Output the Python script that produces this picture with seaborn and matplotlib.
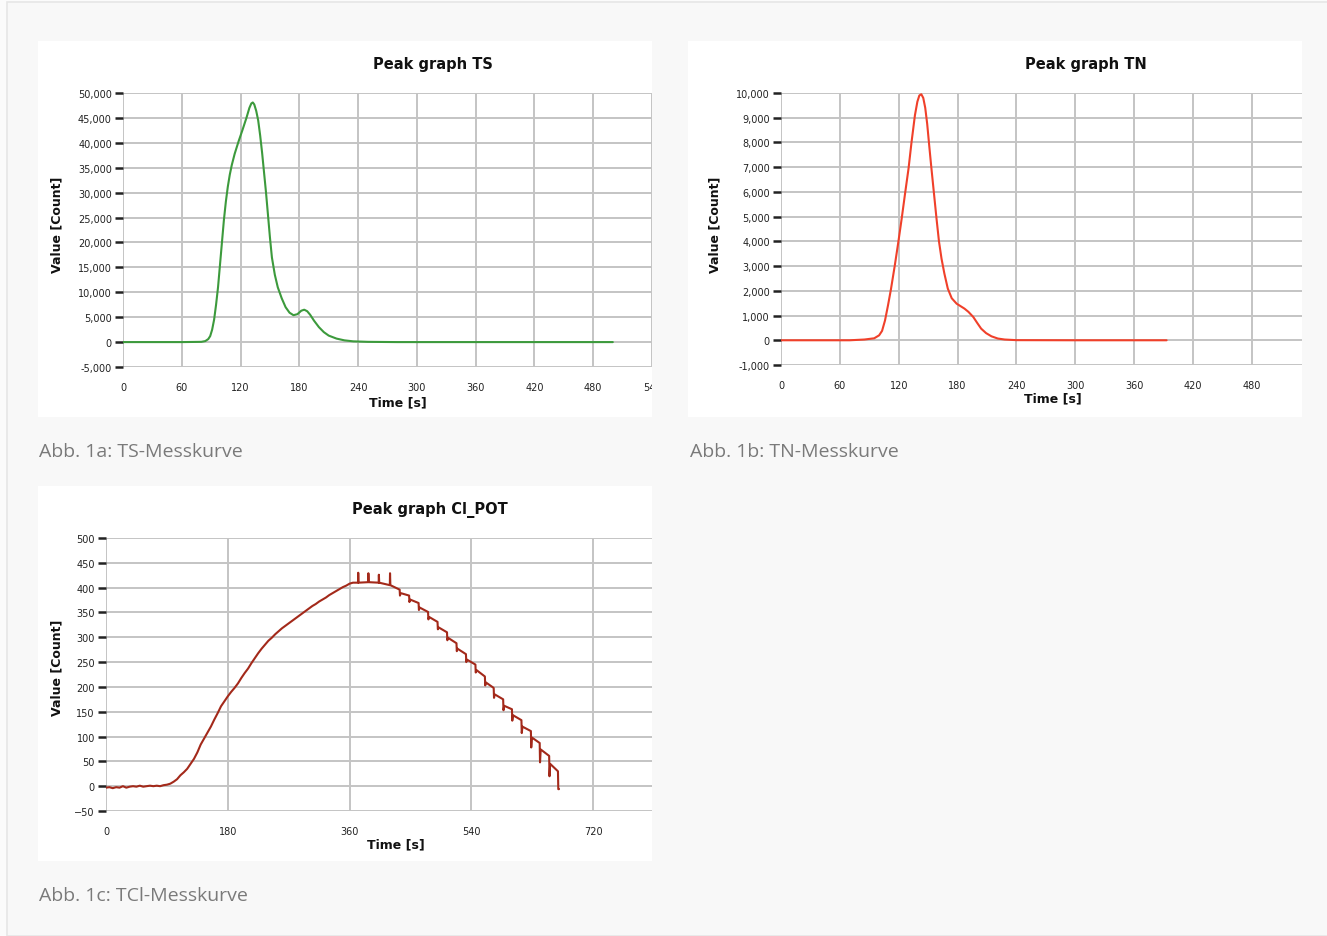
import matplotlib
matplotlib.use("Agg")
import matplotlib.pyplot as plt
import seaborn as sns
from matplotlib.patches import Rectangle
from matplotlib.ticker import FuncFormatter
from matplotlib.transforms import Bbox, TransformedBbox

# --- data ---
ts_time = [0, 60, 80, 84, 87, 89, 91, 93, 95, 97, 99, 101, 103, 105, 107, 109, 111, 114,
           118, 122, 126, 129, 131, 132.5, 134, 136, 138, 140, 142, 144, 146, 148, 150,
           152, 155, 158, 162, 166, 170, 174, 178, 182, 185, 188, 191, 195, 200, 205,
           210, 218, 226, 235, 250, 280, 500]
ts_value = [0, 0, 50, 200, 600, 1200, 2500, 4500, 7500, 11000, 15500, 20000, 24500,
            28200, 31200, 33600, 35500, 37800, 40300, 42600, 45000, 47000, 47900, 48100,
            47700, 46400, 44500, 41500, 38000, 34000, 30000, 25500, 21000, 17000, 13500,
            11000, 8800, 7000, 5900, 5400, 5600, 6300, 6500, 6200, 5500, 4300, 3000,
            2000, 1300, 700, 350, 150, 50, 0, 0]

tn_time = [0, 70, 85, 95, 100, 103, 106, 109, 112, 116, 119.5, 123, 126.5, 130, 133,
           136.5, 139, 141, 143, 145, 147, 149, 151, 153, 156, 158.5, 161, 163.6, 166.5,
           170, 174, 179, 183, 187, 191, 196, 200, 204, 209, 214.5, 221, 228, 240, 300, 393]
tn_value = [0, 0, 30, 80, 200, 380, 800, 1400, 2050, 3030, 3950, 4920, 5950, 6950, 8000,
            9100, 9650, 9900, 9950, 9800, 9400, 8750, 7900, 7075, 5900, 4920, 4000, 3300,
            2700, 2090, 1700, 1480, 1380, 1280, 1150, 940, 700, 470, 290, 160, 70, 30, 5,
            0, 0]

# Cl_POT: smooth rise, then plateau with upward spikes, then stepped descent
ci_rise_time = [0, 5, 10, 15, 20, 25, 30, 35, 40, 45, 50, 55, 60, 65, 70, 75, 80, 85, 90,
                95, 100, 105, 110, 115, 120, 125, 130, 135, 140, 145, 150, 155, 160, 165,
                170, 175, 180, 185, 190, 195, 200, 205, 210, 215, 220, 225, 230, 235, 240,
                245, 250, 255, 260, 265, 270, 275, 280, 285, 290, 295, 300, 305, 310, 315,
                320, 325, 330, 335, 340, 345, 350, 355, 360, 365]
ci_rise_value = [-3, -2, -4, -2, -3, 0, -3, -1, 0, -1, 1, -1, 0, 1, 0, 1, 0, 2, 3, 5, 9,
                 14, 22, 28, 35, 45, 55, 68, 84, 96, 108, 120, 134, 147, 161, 171, 181,
                 190, 198, 207, 218, 228, 237, 248, 258, 268, 277, 285, 293, 299, 306,
                 312, 318, 323, 328, 333, 338, 343, 348, 353, 358, 363, 367, 372, 376,
                 380, 385, 389, 393, 397, 401, 404, 408, 410]
# upward spikes on the plateau: time, base, top
ci_up_time = [372.5, 387.5, 403, 419.5]
ci_up_base = [410, 411, 410, 405]
ci_up_top = [430, 429, 426, 429]
# descending steps: time, value before drop, spike bottom, value after
ci_step_time = [434, 448, 462, 476, 490, 504, 518, 532, 546, 560, 573, 587, 600, 614,
                628, 641, 655, 668]
ci_step_pre = [396, 384, 369, 351, 331, 310, 288, 266, 245, 221, 198, 175, 155, 133, 111,
               87, 61, 30]
ci_step_low = [384, 371, 355, 336, 316, 294, 272, 250, 229, 203, 178, 153, 132, 107, 78,
               48, 20, -6]
ci_step_post = [389, 376, 360, 341, 320, 299, 277, 255, 234, 209, 185, 162, 143, 120,
                98, 74, 45, -6]

ci_time = list(ci_rise_time)
ci_value = list(ci_rise_value)
for t, b, top in zip(ci_up_time, ci_up_base, ci_up_top):
    ci_time += [t, t + 0.3, t + 0.8]
    ci_value += [b, top, b]
for t, a, lo, c in zip(ci_step_time, ci_step_pre, ci_step_low, ci_step_post):
    ci_time += [t, t + 0.5, t + 1.5]
    ci_value += [a, lo, c]

W, H = 1327, 937
sns.set_style("white")
plt.rcParams["font.family"] = ["DejaVu Sans"]

fig = plt.figure(figsize=(W / 100, H / 100), dpi=100)
fig.patch.set_facecolor("#fbfbfb")
fig.add_artist(Rectangle((7 / W, 0), 1, 1 - 3 / H, transform=fig.transFigure,
                         facecolor="#f8f8f8", edgecolor="#e6e6e6", lw=1.2, zorder=-3))


def px_box(l, t, r, b):
    return [l / W, 1 - b / H, (r - l) / W, (b - t) / H]


def panel(l, t, r, b):
    fig.add_artist(Rectangle((l / W, 1 - b / H), (r - l) / W, (b - t) / H,
                             transform=fig.transFigure, facecolor="white",
                             edgecolor="none", zorder=-2))


comma = FuncFormatter(lambda v, p: f"{int(v):,}")


def style_axes(ax, xlim, xticks, ylim, yticks, fmt, title, title_pos, xl_pos, yl_pos):
    ax.set_zorder(1)
    ax.set_xlim(*xlim)
    ax.set_ylim(*ylim)
    ax.set_xticks(xticks)
    ax.set_yticks(yticks)
    if fmt is not None:
        ax.yaxis.set_major_formatter(fmt)
    ax.grid(True, color="#c4c4c4", linewidth=1.4)
    ax.set_axisbelow(True)
    for s in ax.spines.values():
        s.set_visible(False)
    ax.tick_params(axis="y", left=True, length=6, width=1.8, color="#222222", pad=2,
                   labelsize=7, labelcolor="#222222")
    ax.tick_params(axis="x", bottom=False, length=0, pad=11, labelsize=7,
                   labelcolor="#222222")
    ax.set_title(title, fontsize=10.5, fontweight="bold", x=title_pos[0], y=title_pos[1],
                 va="center", color="#111111", pad=0)
    ax.set_xlabel("Time [s]", fontsize=9, fontweight="bold", color="#111111")
    ax.set_ylabel("Value [Count]", fontsize=9, fontweight="bold", color="#111111")
    ax.xaxis.set_label_coords(*xl_pos)
    ax.xaxis.label.set_va("center")
    ax.yaxis.set_label_coords(*yl_pos)
    ax.yaxis.label.set_va("center")


# Abb. 1a
panel(38, 42, 652, 418)
ax1 = fig.add_axes(px_box(123, 94, 652, 368))
sns.lineplot(x=ts_time, y=ts_value, ax=ax1, color="#3c9a3c", linewidth=1.5,
             estimator=None, sort=False)
style_axes(ax1, (0, 532), list(range(0, 541, 60)), (-5000, 50000),
           list(range(-5000, 50001, 5000)), comma, "Peak graph TS",
           (0.586, 1.106), (0.52, -0.128), (-0.125, 0.522))
clip1 = TransformedBbox(Bbox([[38 / W, 0], [652 / W, 1]]), fig.transFigure)
for lab in ax1.get_xticklabels():
    lab.set_clip_box(clip1)
    lab.set_clip_on(True)

# Abb. 1b
panel(688, 42, 1302, 418)
ax2 = fig.add_axes(px_box(781, 94, 1302, 366))
sns.lineplot(x=tn_time, y=tn_value, ax=ax2, color="#f0402a", linewidth=1.5,
             estimator=None, sort=False)
style_axes(ax2, (0, 531), list(range(0, 481, 60)), (-1000, 10000),
           list(range(-1000, 10001, 1000)), comma, "Peak graph TN",
           (0.585, 1.107), (0.522, -0.121), (-0.127, 0.518))

# Abb. 1c
panel(38, 487, 652, 862)
ax3 = fig.add_axes(px_box(106, 539, 652, 812))
sns.lineplot(x=ci_time, y=ci_value, ax=ax3, color="#a3291a", linewidth=1.5,
             estimator=None, sort=False)
style_axes(ax3, (0, 807), [0, 180, 360, 540, 720], (-50, 500),
           list(range(-50, 501, 50)), None, "Peak graph Cl_POT",
           (0.593, 1.106), (0.531, -0.121), (-0.09, 0.527))

# captions
cap = dict(fontsize=14, color="#7a7a7a", family=["Open Sans", "DejaVu Sans"],
           va="center", ha="left")
fig.text(39 / W, 1 - 452 / H, "Abb. 1a: TS-Messkurve", **cap)
fig.text(690 / W, 1 - 452 / H, "Abb. 1b: TN-Messkurve", **cap)
fig.text(39 / W, 1 - 896 / H, "Abb. 1c: TCl-Messkurve", **cap)

fig.savefig("out.png", dpi=100, facecolor=fig.get_facecolor())
